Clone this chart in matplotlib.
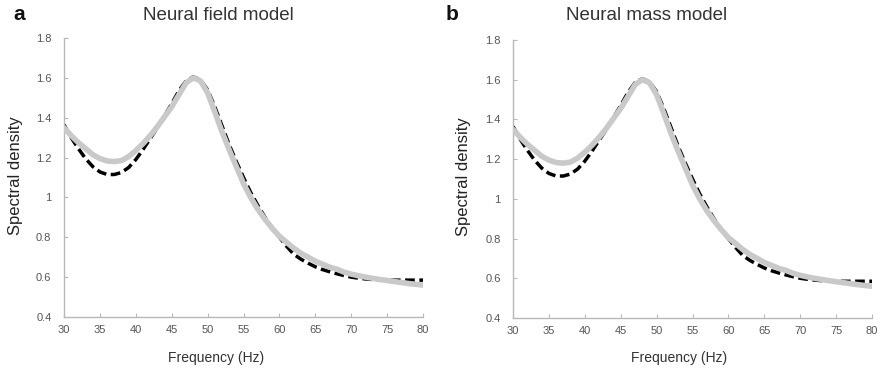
import matplotlib
matplotlib.use("Agg")
import matplotlib.pyplot as plt

freq = list(range(30, 81))

# Spectral density of the simulated response (grey, solid)
simulated = [1.35, 1.31, 1.275, 1.245, 1.215, 1.195, 1.183, 1.18, 1.185, 1.205,
             1.235, 1.27, 1.31, 1.355, 1.405, 1.455, 1.515, 1.575, 1.60, 1.585,
             1.525, 1.43, 1.33, 1.24, 1.155, 1.07, 1.00, 0.94, 0.89, 0.845,
             0.805, 0.775, 0.745, 0.72, 0.70, 0.68, 0.665, 0.65, 0.64, 0.625,
             0.615, 0.607, 0.60, 0.594, 0.588, 0.583, 0.578, 0.573, 0.568, 0.564,
             0.56]

# Spectral density predicted by the model (black, dashed)
predicted = [1.365, 1.30, 1.245, 1.195, 1.155, 1.128, 1.115, 1.115, 1.125, 1.15,
             1.19, 1.24, 1.295, 1.35, 1.41, 1.47, 1.535, 1.585, 1.605, 1.59,
             1.54, 1.455, 1.36, 1.265, 1.18, 1.10, 1.025, 0.96, 0.90, 0.845,
             0.80, 0.755, 0.715, 0.69, 0.67, 0.652, 0.638, 0.627, 0.617, 0.608,
             0.60, 0.595, 0.591, 0.588, 0.586, 0.585, 0.585, 0.585, 0.585, 0.585,
             0.585]

titles = ["Neural field model", "Neural mass model"]
panel_letters = ["a", "b"]
x_ticks = [30, 35, 40, 45, 50, 55, 60, 65, 70, 75, 80]
y_ticks = [0.4, 0.6, 0.8, 1.0, 1.2, 1.4, 1.6, 1.8]
y_tick_labels = ["0.4", "0.6", "0.8", "1", "1.2", "1.4", "1.6", "1.8"]

plt.rcParams["font.family"] = ["Liberation Sans", "DejaVu Sans"]

W, H = 880, 368
fig = plt.figure(figsize=(W / 100, H / 100), dpi=100)

# panel layout in pixels: axes box, title centre, x-label centre, y-label centre, letter
panels = [
    dict(box=(64, 38, 423, 317), title_x=218, xlabel_x=216, ylabel_x=16, letter_x=13),
    dict(box=(513, 40, 872, 318), title_x=647, xlabel_x=679, ylabel_x=463, letter_x=446),
]

for p, title, letter in zip(panels, titles, panel_letters):
    x0, y0, x1, y1 = p["box"]
    ax = fig.add_axes([x0 / W, 1 - y1 / H, (x1 - x0) / W, (y1 - y0) / H])
    ax.plot(freq, predicted, color="black", lw=2.5, dashes=(2.8, 1.3),
            dash_capstyle="butt", zorder=2)
    ax.plot(freq, simulated, color="#c9c9c9", lw=4.0, solid_capstyle="round",
            solid_joinstyle="round", zorder=3)

    ax.set_xlim(30, 80)
    ax.set_ylim(0.4, 1.8)
    ax.set_xticks(x_ticks)
    ax.set_yticks(y_ticks)
    ax.set_yticklabels(y_tick_labels)
    for side in ("top", "right"):
        ax.spines[side].set_visible(False)
    for side in ("left", "bottom"):
        ax.spines[side].set_color("#b8b8b8")
        ax.spines[side].set_linewidth(1.0)
    ax.tick_params(direction="in", length=3, width=0.8, color="#b8b8b8",
                   labelsize=8, labelcolor="#555555")
    ax.tick_params(axis="y", pad=9)
    ax.tick_params(axis="x", pad=6)

    fig.text(p["title_x"] / W, 1 - 15 / H, title, fontsize=13.5, color="#333333",
             ha="center", va="center")
    fig.text(p["xlabel_x"] / W, 1 - 358 / H, "Frequency (Hz)", fontsize=10,
             color="#333333", ha="center", va="center")
    fig.text(p["ylabel_x"] / W, 1 - ((y0 + y1) / 2 - 2) / H, "Spectral density",
             fontsize=12, color="#222222", ha="center", va="center", rotation=90)
    fig.text(p["letter_x"] / W, 1 - 15 / H, letter, fontsize=15, fontweight="bold",
             color="#111111", ha="left", va="center")

fig.savefig("out.png", dpi=100, facecolor="white")
